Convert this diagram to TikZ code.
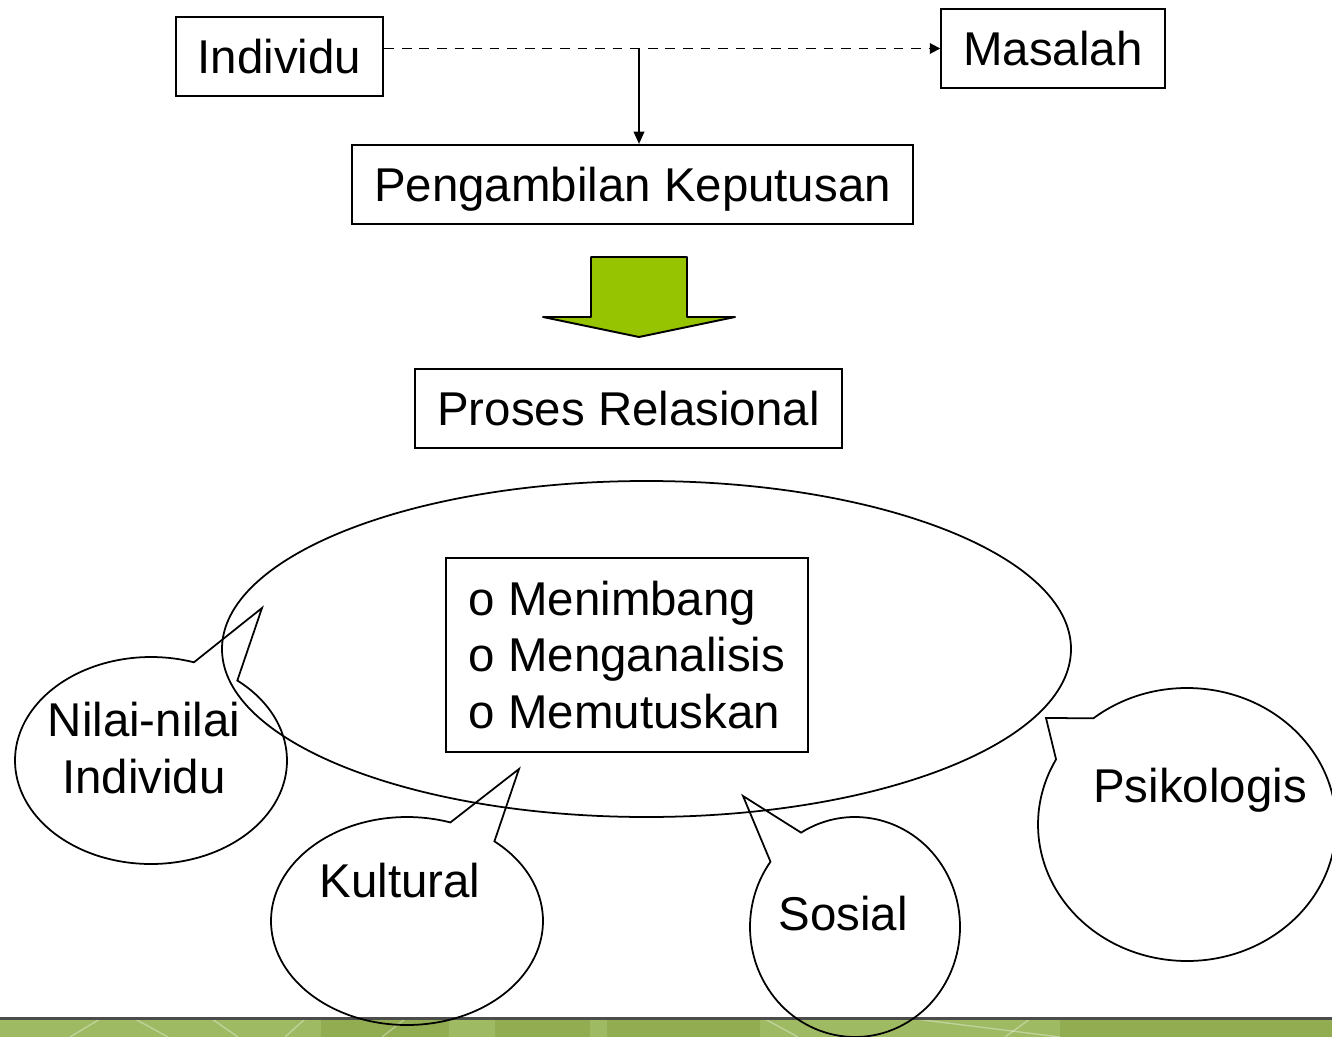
\documentclass[tikz,border=0pt]{standalone}
\usepackage{fontspec}
\setmainfont{Liberation Sans}
\usetikzlibrary{arrows.meta}
\definecolor{arrowgreen}{RGB}{150,196,0}
\definecolor{stripdark}{RGB}{146,173,81}
\definecolor{striplight}{RGB}{158,186,99}
\tikzset{
  box/.style={draw, line width=1.2pt, minimum height=1.58cm, inner xsep=0.44cm, text height=19.4pt, text depth=0pt},
  bubble/.style={draw, line width=1pt},
  bubbletext/.style={inner sep=0pt, align=center},
  link/.style={line width=1.1pt, -{Triangle[length=7pt,width=6pt]}}
}
\begin{document}
\begin{tikzpicture}[x=0.02cm, y=-0.02cm, font=\fontsize{27}{32.3}\selectfont]
    \useasboundingbox[fill=white] (0,0) rectangle (1332,1037);

    % Define points
    \coordinate (fork) at (639,48);
    \coordinate (nilaiTip) at (262,608);
    \coordinate (kulturTip) at (519,769);
    \coordinate (sosialTip) at (743,796);
    \coordinate (psikoTip) at (1046,718);

    % Bottom strip
    \fill[stripdark] (0,1018) rectangle (1332,1037);
    \fill[striplight] (0,1018) rectangle (321,1037);
    \fill[striplight] (449,1018) rectangle (495,1037);
    \fill[striplight] (590,1018) rectangle (607,1037);
    \fill[striplight] (760,1018) rectangle (1060,1037);
    \foreach \xa/\xb in {100/70, 135/168, 212/238, 305/285, 405/382, 765/798, 915/1060, 1030/1005}
        \draw[white, opacity=0.35, line width=0.8pt] (\xa,1019) -- (\xb,1037);
    \draw[line width=1.2pt, black!70] (0,1018.5) -- (1332,1018.5);

    % Big ellipse
    \draw[bubble] (646.5,649) ellipse [x radius=424.5, y radius=168];

    % Callouts
    \draw[bubble] (151,760.5) ++(-50.6:136 and 103.5) arc[start angle=-50.6, end angle=288.4, x radius=136, y radius=103.5] -- (nilaiTip) -- cycle;
    \draw[bubble] (407,921) ++(-50:136 and 104) arc[start angle=-50, end angle=288.6, x radius=136, y radius=104] -- (kulturTip) -- cycle;
    \draw[bubble] (855,927) ++(239.1:105 and 110) arc[start angle=239.1, end angle=576.4, x radius=105, y radius=110] -- (sosialTip) -- cycle;
    \draw[bubble] (1187,824.5) ++(231.1:149 and 136.5) arc[start angle=231.1, end angle=568.5, x radius=149, y radius=136.5] -- (psikoTip) -- cycle;

    \node[bubbletext] (nilai) at (144,748) {Nilai-nilai\\Individu};
    \node[bubbletext, anchor=base] (kultur) at (400,897) {Kultural};
    \node[bubbletext, anchor=base] (sosial) at (843,930) {Sosial};
    \node[bubbletext, anchor=base] (psiko) at (1200,802) {Psikologis};

    % Boxes
    \node[box] (indiv) at (279.5,56.5) {Individu};
    \node[box] (masalah) at (1053,48.5) {Masalah};
    \node[box] (peng) at (632.5,184.5) {Pengambilan Keputusan};
    \node[box] (proses) at (628.5,408.5) {Proses Relasional};
    \node[draw, line width=1.2pt, minimum width=7.24cm, minimum height=3.88cm, inner xsep=0.42cm, align=left] (steps) at (627,655)
        {o Menimbang\\o Menganalisis\\o Memutuskan};

    % Connectors
    \draw[link, dash pattern=on 5.5pt off 4.5pt, -{Triangle[length=6pt,width=6pt]}] (indiv.east |- masalah.west) -- (masalah.west);
    \draw[link] (fork) -- (fork |- peng.north);

    % Block arrow
    \draw[line width=1.1pt, line join=round, fill=arrowgreen] (591,257) -- (687,257) -- (687,317) -- (735,317) -- (639,337) -- (543,317) -- (591,317) -- cycle;
\end{tikzpicture}
\end{document}
